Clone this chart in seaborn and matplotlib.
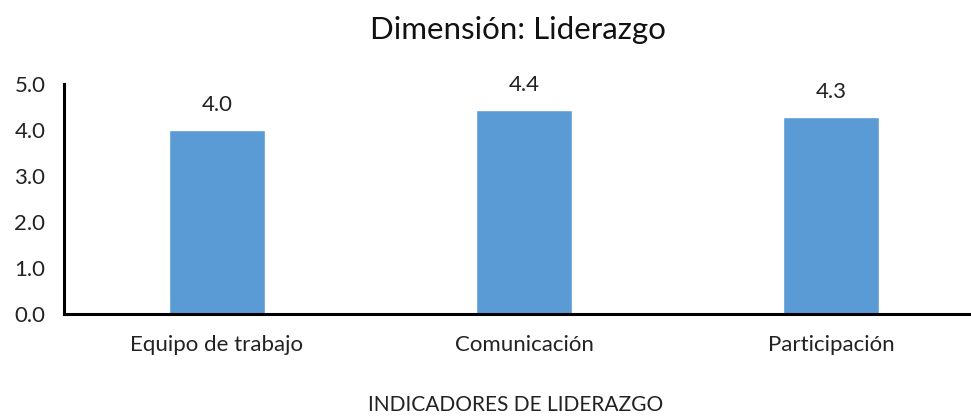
import matplotlib
matplotlib.use("Agg")
import matplotlib.pyplot as plt
import seaborn as sns
import pandas as pd

# -----------------------------------
# DATA
# -----------------------------------
indicadores = ["Equipo de trabajo", "Comunicación", "Participación"]
promedios = [3.99, 4.43, 4.28]
etiquetas = ["4.0", "4.4", "4.3"]

df = pd.DataFrame({"indicador": indicadores, "promedio": promedios})

# -----------------------------------
# VISUAL SETTINGS
# -----------------------------------
sns.set_style("white")
plt.rcParams["font.family"] = ["Lato", "DejaVu Sans"]

fig = plt.figure(figsize=(9.71, 4.18), dpi=100)
ax = fig.add_axes([63.5 / 971, 1 - 314 / 418, 921 / 971, 230 / 418])

sns.barplot(data=df, x="indicador", y="promedio", color="#5B9BD5",
            width=0.31, saturation=1, ax=ax)

for p, lab in zip(ax.patches, etiquetas):
    ax.annotate(lab, (p.get_x() + p.get_width() / 2, p.get_height()),
                xytext=(0, 18), textcoords="offset points",
                ha="center", va="center", fontsize=16, color="#222222")

ax.set_xlim(-0.5, 2.5)
ax.set_ylim(0, 5)
ax.set_yticks([0, 1, 2, 3, 4, 5])
ax.set_yticklabels([f"{v:.1f}" for v in [0, 1, 2, 3, 4, 5]])
ax.tick_params(axis="y", length=0, pad=13, labelsize=16, labelcolor="#222222")
ax.tick_params(axis="x", length=0, pad=15, labelsize=16, labelcolor="#222222")

ax.set_xlabel("")
ax.set_ylabel("")
for s in ["top", "right"]:
    ax.spines[s].set_visible(False)
for s in ["left", "bottom"]:
    ax.spines[s].set_linewidth(2.2)
    ax.spines[s].set_color("black")

fig.text(518 / 971, 1 - 30 / 418, "Dimensión: Liderazgo", ha="center",
         va="center", fontsize=22.5, color="#111111")
fig.text(516 / 971, 1 - 405 / 418, "INDICADORES DE LIDERAZGO", ha="center",
         va="center", fontsize=15, color="#222222")

fig.savefig("out.png", dpi=100)
